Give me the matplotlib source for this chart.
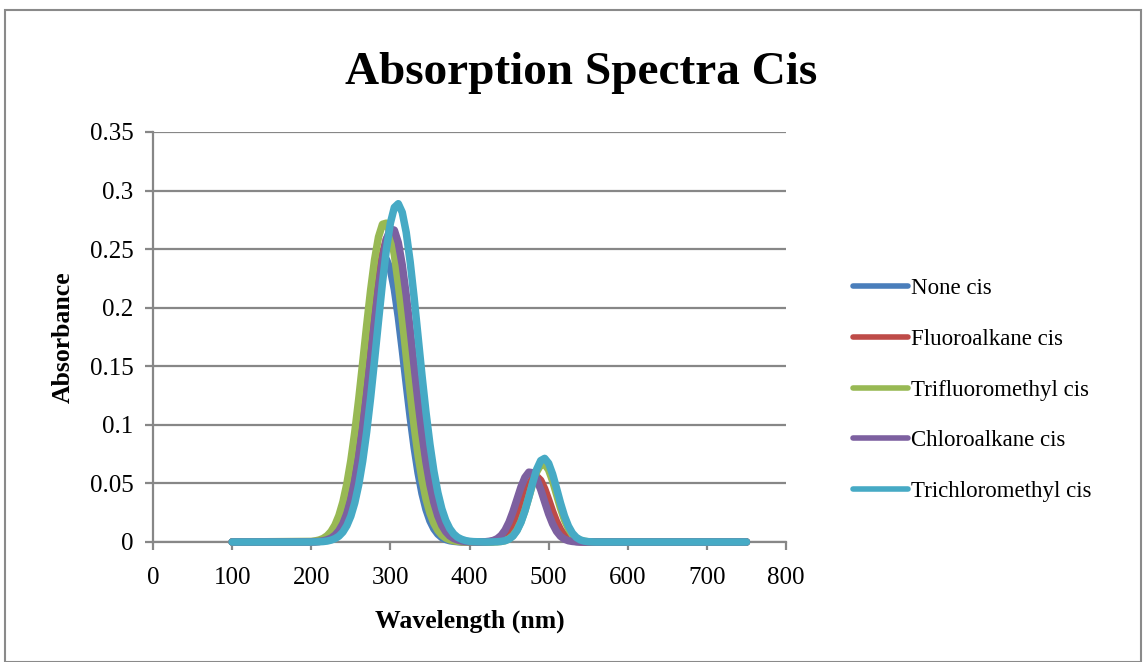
import matplotlib
matplotlib.use("Agg")
import matplotlib.pyplot as plt
from matplotlib.patches import Rectangle
from matplotlib.ticker import FuncFormatter, MultipleLocator

plt.rcParams["font.family"] = ["Liberation Serif", "DejaVu Serif"]

# Sample points (nm): baseline end points plus a 5 nm grid over the band region
wavelength = [100] + list(range(200, 585, 5)) + [750]

series_names = [
    "None cis",
    "Fluoroalkane cis",
    "Trifluoromethyl cis",
    "Chloroalkane cis",
    "Trichloromethyl cis",
]

none_cis = [0.0,
    0.0002, 0.0005, 0.0010, 0.0019, 0.0034, 0.0060, 0.0101, 0.0164, 0.0256, 0.0383,
    0.0551, 0.0762, 0.1013, 0.1293, 0.1585, 0.1868, 0.2114, 0.2299, 0.2403, 0.2412,
    0.2327, 0.2157, 0.1921, 0.1643, 0.1351, 0.1067, 0.0809, 0.0590, 0.0413, 0.0278,
    0.0180, 0.0112, 0.0067, 0.0038, 0.0021, 0.0011, 0.0006, 0.0003, 0.0001, 0.0001,
    0.0000, 0.0000, 0.0000, 0.0000, 0.0001, 0.0002, 0.0005, 0.0011, 0.0025, 0.0049,
    0.0089, 0.0147, 0.0225, 0.0315, 0.0405, 0.0478, 0.0516, 0.0512, 0.0466, 0.0388,
    0.0297, 0.0208, 0.0134, 0.0079, 0.0043, 0.0021, 0.0010, 0.0004, 0.0002, 0.0001,
    0.0000, 0.0000, 0.0000, 0.0000, 0.0000, 0.0000, 0.0000,
    0.0]

fluoroalkane_cis = [0.0,
    0.0001, 0.0002, 0.0005, 0.0009, 0.0018, 0.0033, 0.0058, 0.0099, 0.0162, 0.0254,
    0.0384, 0.0557, 0.0776, 0.1039, 0.1337, 0.1653, 0.1963, 0.2240, 0.2456, 0.2587,
    0.2618, 0.2546, 0.2378, 0.2135, 0.1841, 0.1526, 0.1215, 0.0929, 0.0683, 0.0482,
    0.0327, 0.0213, 0.0134, 0.0080, 0.0046, 0.0026, 0.0014, 0.0007, 0.0003, 0.0002,
    0.0001, 0.0000, 0.0000, 0.0000, 0.0000, 0.0001, 0.0004, 0.0009, 0.0020, 0.0040,
    0.0076, 0.0131, 0.0207, 0.0300, 0.0399, 0.0487, 0.0545, 0.0559, 0.0526, 0.0454,
    0.0360, 0.0261, 0.0174, 0.0106, 0.0059, 0.0031, 0.0014, 0.0006, 0.0002, 0.0001,
    0.0000, 0.0000, 0.0000, 0.0000, 0.0000, 0.0000, 0.0000,
    0.0]

trifluoromethyl_cis = [0.0,
    0.0005, 0.0009, 0.0017, 0.0030, 0.0053, 0.0089, 0.0145, 0.0227, 0.0342, 0.0497,
    0.0695, 0.0938, 0.1220, 0.1529, 0.1846, 0.2148, 0.2409, 0.2604, 0.2712, 0.2722,
    0.2633, 0.2454, 0.2205, 0.1908, 0.1592, 0.1280, 0.0992, 0.0740, 0.0533, 0.0369,
    0.0247, 0.0159, 0.0099, 0.0059, 0.0034, 0.0019, 0.0010, 0.0005, 0.0003, 0.0001,
    0.0001, 0.0000, 0.0000, 0.0000, 0.0000, 0.0000, 0.0001, 0.0002, 0.0005, 0.0012,
    0.0027, 0.0055, 0.0102, 0.0173, 0.0268, 0.0383, 0.0500, 0.0600, 0.0660, 0.0665,
    0.0616, 0.0522, 0.0406, 0.0290, 0.0190, 0.0114, 0.0063, 0.0032, 0.0015, 0.0006,
    0.0002, 0.0001, 0.0000, 0.0000, 0.0000, 0.0000, 0.0000,
    0.0]

chloroalkane_cis = [0.0,
    0.0001, 0.0003, 0.0005, 0.0010, 0.0019, 0.0033, 0.0058, 0.0097, 0.0156, 0.0242,
    0.0363, 0.0523, 0.0727, 0.0974, 0.1257, 0.1563, 0.1874, 0.2164, 0.2409, 0.2585,
    0.2672, 0.2662, 0.2556, 0.2365, 0.2109, 0.1812, 0.1501, 0.1198, 0.0921, 0.0682,
    0.0488, 0.0336, 0.0223, 0.0142, 0.0088, 0.0052, 0.0030, 0.0017, 0.0009, 0.0004,
    0.0002, 0.0001, 0.0000, 0.0001, 0.0002, 0.0006, 0.0013, 0.0028, 0.0056, 0.0102,
    0.0170, 0.0260, 0.0364, 0.0468, 0.0551, 0.0596, 0.0591, 0.0537, 0.0448, 0.0343,
    0.0240, 0.0155, 0.0091, 0.0049, 0.0024, 0.0011, 0.0005, 0.0002, 0.0001, 0.0000,
    0.0000, 0.0000, 0.0000, 0.0000, 0.0000, 0.0000, 0.0000,
    0.0]

trichloromethyl_cis = [0.0,
    0.0000, 0.0001, 0.0002, 0.0004, 0.0008, 0.0016, 0.0029, 0.0050, 0.0085, 0.0140,
    0.0220, 0.0334, 0.0489, 0.0690, 0.0938, 0.1229, 0.1552, 0.1887, 0.2213, 0.2500,
    0.2722, 0.2856, 0.2888, 0.2814, 0.2643, 0.2392, 0.2086, 0.1753, 0.1419, 0.1108,
    0.0834, 0.0604, 0.0422, 0.0284, 0.0184, 0.0115, 0.0069, 0.0040, 0.0023, 0.0012,
    0.0006, 0.0003, 0.0002, 0.0001, 0.0000, 0.0000, 0.0001, 0.0002, 0.0005, 0.0011,
    0.0025, 0.0051, 0.0097, 0.0167, 0.0264, 0.0383, 0.0509, 0.0622, 0.0695, 0.0714,
    0.0672, 0.0580, 0.0459, 0.0333, 0.0222, 0.0136, 0.0076, 0.0039, 0.0018, 0.0008,
    0.0003, 0.0001, 0.0000, 0.0000, 0.0000, 0.0000, 0.0000,
    0.0]

series_values = [none_cis, fluoroalkane_cis, trifluoromethyl_cis,
                 chloroalkane_cis, trichloromethyl_cis]
series_colors = ["#4A7EBB", "#BE4B48", "#98B954", "#7D60A0", "#46AAC5"]

x_ticks = [0, 100, 200, 300, 400, 500, 600, 700, 800]

W, H = 1144, 662
fig = plt.figure(figsize=(W / 100, H / 100), dpi=100)
fig.patch.set_facecolor("white")

# outer chart-area frame
fig.add_artist(Rectangle((5 / W, 0), 1136 / W, (H - 10) / H,
                         transform=fig.transFigure, fill=False,
                         edgecolor="#8a8a8a", linewidth=1.5))

ax = fig.add_axes([153 / W, 1 - 542 / H, (786 - 153) / W, (542 - 132) / H])

grid_color = "#878787"
for name, vals, col in zip(series_names, series_values, series_colors):
    ax.plot(wavelength, vals, color=col, linewidth=5.4, label=name,
            solid_capstyle="round", solid_joinstyle="round",
            clip_on=False, zorder=3)

ax.set_xlim(0, 800)
ax.set_ylim(0, 0.35)
ax.set_xticks(x_ticks)
ax.yaxis.set_major_locator(MultipleLocator(0.05))
ax.yaxis.set_major_formatter(FuncFormatter(lambda v, p: f"{v:g}"))

ax.yaxis.grid(True, color=grid_color, linewidth=1.6)
ax.set_axisbelow(True)
for side in ["top", "right"]:
    ax.spines[side].set_visible(False)
for side in ["left", "bottom"]:
    ax.spines[side].set_color(grid_color)
    ax.spines[side].set_linewidth(1.6)

ax.tick_params(axis="both", direction="out", length=6, width=1.6,
               color=grid_color, labelsize=18, labelcolor="black")
ax.tick_params(axis="y", pad=8)
ax.tick_params(axis="x", pad=12)

ax.set_xlabel("Wavelength (nm)", fontsize=18.5, fontweight="bold", labelpad=15)
ax.set_ylabel("Absorbance", fontsize=18.5, fontweight="bold", labelpad=11)

fig.text(581 / W, 1 - 73 / H, "Absorption Spectra Cis", fontsize=34,
         fontweight="bold", ha="center", va="center")

leg = ax.legend(loc="center left", bbox_to_anchor=(853 / W, 1 - 390 / H),
                bbox_transform=fig.transFigure, frameon=False, fontsize=16.5,
                handlelength=2.4, handletextpad=0.15, labelspacing=1.3,
                borderpad=0, borderaxespad=0)
for line in leg.get_lines():
    line.set_linewidth(4.0)

fig.savefig("out.png", dpi=100)
